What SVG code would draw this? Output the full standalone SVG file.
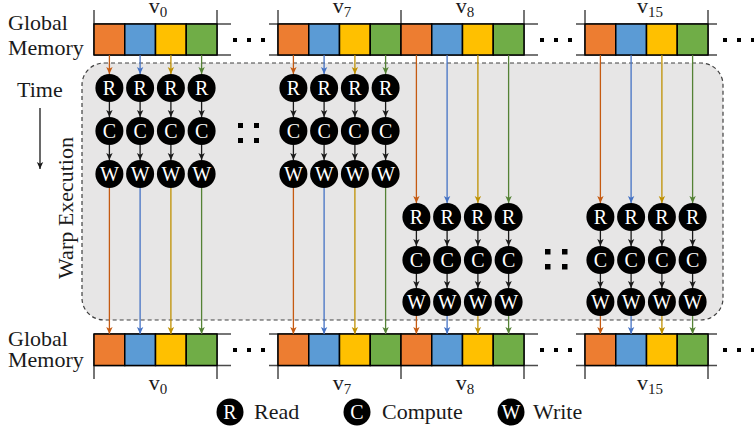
<svg xmlns="http://www.w3.org/2000/svg" width="754" height="431" viewBox="0 0 754 431">
<style>
text{font-family:"Liberation Serif","Times New Roman",serif;fill:#1a1a1a}
.lbl{font-size:22px}
.nl{font-size:20px;fill:#fff;text-anchor:middle}
.vl{font-size:22px;text-anchor:middle}
.c0{fill:#ed7d31}.c1{fill:#5b9bd5}.c2{fill:#ffc000}.c3{fill:#70ad47}
.cell{stroke:#000;stroke-width:1.5}
.rail{stroke:#4a4a4a;stroke-width:1.5;fill:none}
.node{fill:#000}
.k{stroke:#1a1a1a;stroke-width:1.3;fill:none;marker-end:url(#ak)}
.l0{stroke:#c55a11;stroke-width:1.3;fill:none;marker-end:url(#a0)}
.l1{stroke:#4472c4;stroke-width:1.3;fill:none;marker-end:url(#a1)}
.l2{stroke:#bf9000;stroke-width:1.3;fill:none;marker-end:url(#a2)}
.l3{stroke:#548235;stroke-width:1.3;fill:none;marker-end:url(#a3)}
.dot{fill:#000}
</style>
<defs>
<marker id="ak" markerUnits="userSpaceOnUse" markerWidth="8" markerHeight="8" refX="7" refY="4" orient="auto"><path d="M0,0.8 L7,4 L0,7.2 L1.8,4 Z" fill="#1a1a1a"/></marker>
<marker id="a0" markerUnits="userSpaceOnUse" markerWidth="8" markerHeight="8" refX="7" refY="4" orient="auto"><path d="M0,0.8 L7,4 L0,7.2 L1.8,4 Z" fill="#c55a11"/></marker>
<marker id="a1" markerUnits="userSpaceOnUse" markerWidth="8" markerHeight="8" refX="7" refY="4" orient="auto"><path d="M0,0.8 L7,4 L0,7.2 L1.8,4 Z" fill="#4472c4"/></marker>
<marker id="a2" markerUnits="userSpaceOnUse" markerWidth="8" markerHeight="8" refX="7" refY="4" orient="auto"><path d="M0,0.8 L7,4 L0,7.2 L1.8,4 Z" fill="#bf9000"/></marker>
<marker id="a3" markerUnits="userSpaceOnUse" markerWidth="8" markerHeight="8" refX="7" refY="4" orient="auto"><path d="M0,0.8 L7,4 L0,7.2 L1.8,4 Z" fill="#548235"/></marker>
</defs>

<!-- warp execution region -->
<g id="warp">
<rect x="82" y="63" width="641" height="257" rx="22" ry="22" fill="#e7e6e6" stroke="#404040" stroke-width="1.2" stroke-dasharray="4 3"/>
</g>

<!-- side labels -->
<g id="labels">
<text class="lbl" x="8" y="30">Global</text>
<text class="lbl" x="8" y="55">Memory</text>
<text class="lbl" x="8" y="346">Global</text>
<text class="lbl" x="8" y="367">Memory</text>
<text class="lbl" x="17" y="97">Time</text>
<text class="lbl" transform="translate(73,208) rotate(-90)" text-anchor="middle">Warp Execution</text>
<line x1="40" y1="108" x2="40" y2="169" class="k"/>
</g>

<!-- top global memory -->
<g id="top-memory">
<path class="rail" d="M94,24H231M94,55H231M94,10V55M217,10V55M269,24H538M269,55H538M278,10V55M401,10V55M524,10V55M576,24H717M576,55H717M585,10V55M708,10V55"/>
<g id="top-v0">
<rect class="cell c0" x="94" y="24" width="30.75" height="31"/><rect class="cell c1" x="124.75" y="24" width="30.75" height="31"/><rect class="cell c2" x="155.5" y="24" width="30.75" height="31"/><rect class="cell c3" x="186.25" y="24" width="30.75" height="31"/>
<text class="vl" x="158" y="13">v<tspan font-size="15" dy="4">0</tspan></text>
</g>
<g id="top-v7">
<rect class="cell c0" x="278" y="24" width="30.75" height="31"/><rect class="cell c1" x="308.75" y="24" width="30.75" height="31"/><rect class="cell c2" x="339.5" y="24" width="30.75" height="31"/><rect class="cell c3" x="370.25" y="24" width="30.75" height="31"/>
<text class="vl" x="342" y="13">v<tspan font-size="15" dy="4">7</tspan></text>
</g>
<g id="top-v8">
<rect class="cell c0" x="401" y="24" width="30.75" height="31"/><rect class="cell c1" x="431.75" y="24" width="30.75" height="31"/><rect class="cell c2" x="462.5" y="24" width="30.75" height="31"/><rect class="cell c3" x="493.25" y="24" width="30.75" height="31"/>
<text class="vl" x="465" y="13">v<tspan font-size="15" dy="4">8</tspan></text>
</g>
<g id="top-v15">
<rect class="cell c0" x="585" y="24" width="30.75" height="31"/><rect class="cell c1" x="615.75" y="24" width="30.75" height="31"/><rect class="cell c2" x="646.5" y="24" width="30.75" height="31"/><rect class="cell c3" x="677.25" y="24" width="30.75" height="31"/>
<text class="vl" x="650" y="13">v<tspan font-size="15" dy="4">15</tspan></text>
</g>
<rect class="dot" x="233" y="38" width="4" height="4"/><rect class="dot" x="247" y="38" width="4" height="4"/><rect class="dot" x="261" y="38" width="4" height="4"/>
<rect class="dot" x="540" y="38" width="4" height="4"/><rect class="dot" x="554" y="38" width="4" height="4"/><rect class="dot" x="568" y="38" width="4" height="4"/>
<rect class="dot" x="723" y="38" width="4" height="4"/><rect class="dot" x="737" y="38" width="4" height="4"/><rect class="dot" x="751" y="38" width="4" height="4"/>
</g>

<!-- bottom global memory -->
<g id="bottom-memory">
<path class="rail" d="M94,334H231M94,365.5H231M94,334V379M217,334V379M269,334H538M269,365.5H538M278,334V379M401,334V379M524,334V379M576,334H717M576,365.5H717M585,334V379M708,334V379"/>
<g id="bot-v0">
<rect class="cell c0" x="94" y="334" width="30.75" height="31.5"/><rect class="cell c1" x="124.75" y="334" width="30.75" height="31.5"/><rect class="cell c2" x="155.5" y="334" width="30.75" height="31.5"/><rect class="cell c3" x="186.25" y="334" width="30.75" height="31.5"/>
<text class="vl" x="158" y="390">v<tspan font-size="15" dy="4">0</tspan></text>
</g>
<g id="bot-v7">
<rect class="cell c0" x="278" y="334" width="30.75" height="31.5"/><rect class="cell c1" x="308.75" y="334" width="30.75" height="31.5"/><rect class="cell c2" x="339.5" y="334" width="30.75" height="31.5"/><rect class="cell c3" x="370.25" y="334" width="30.75" height="31.5"/>
<text class="vl" x="342" y="390">v<tspan font-size="15" dy="4">7</tspan></text>
</g>
<g id="bot-v8">
<rect class="cell c0" x="401" y="334" width="30.75" height="31.5"/><rect class="cell c1" x="431.75" y="334" width="30.75" height="31.5"/><rect class="cell c2" x="462.5" y="334" width="30.75" height="31.5"/><rect class="cell c3" x="493.25" y="334" width="30.75" height="31.5"/>
<text class="vl" x="465" y="390">v<tspan font-size="15" dy="4">8</tspan></text>
</g>
<g id="bot-v15">
<rect class="cell c0" x="585" y="334" width="30.75" height="31.5"/><rect class="cell c1" x="615.75" y="334" width="30.75" height="31.5"/><rect class="cell c2" x="646.5" y="334" width="30.75" height="31.5"/><rect class="cell c3" x="677.25" y="334" width="30.75" height="31.5"/>
<text class="vl" x="650" y="390">v<tspan font-size="15" dy="4">15</tspan></text>
</g>
<rect class="dot" x="233" y="348" width="4" height="4"/><rect class="dot" x="247" y="348" width="4" height="4"/><rect class="dot" x="261" y="348" width="4" height="4"/>
<rect class="dot" x="540" y="348" width="4" height="4"/><rect class="dot" x="554" y="348" width="4" height="4"/><rect class="dot" x="568" y="348" width="4" height="4"/>
<rect class="dot" x="723" y="348" width="4" height="4"/><rect class="dot" x="737" y="348" width="4" height="4"/><rect class="dot" x="751" y="348" width="4" height="4"/>
</g>

<!-- connectors -->
<g id="connectors">
<!-- v0 -->
<line class="l0" x1="109.4" y1="55" x2="109.4" y2="74"/><line class="l1" x1="140.1" y1="55" x2="140.1" y2="74"/><line class="l2" x1="170.9" y1="55" x2="170.9" y2="74"/><line class="l3" x1="201.6" y1="55" x2="201.6" y2="74"/>
<line class="k" x1="109.4" y1="102" x2="109.4" y2="117"/><line class="k" x1="140.1" y1="102" x2="140.1" y2="117"/><line class="k" x1="170.9" y1="102" x2="170.9" y2="117"/><line class="k" x1="201.6" y1="102" x2="201.6" y2="117"/>
<line class="k" x1="109.4" y1="145" x2="109.4" y2="160"/><line class="k" x1="140.1" y1="145" x2="140.1" y2="160"/><line class="k" x1="170.9" y1="145" x2="170.9" y2="160"/><line class="k" x1="201.6" y1="145" x2="201.6" y2="160"/>
<line class="l0" x1="109.4" y1="188" x2="109.4" y2="334"/><line class="l1" x1="140.1" y1="188" x2="140.1" y2="334"/><line class="l2" x1="170.9" y1="188" x2="170.9" y2="334"/><line class="l3" x1="201.6" y1="188" x2="201.6" y2="334"/>
<!-- v7 -->
<line class="l0" x1="293.4" y1="55" x2="293.4" y2="74"/><line class="l1" x1="324.1" y1="55" x2="324.1" y2="74"/><line class="l2" x1="354.9" y1="55" x2="354.9" y2="74"/><line class="l3" x1="385.6" y1="55" x2="385.6" y2="74"/>
<line class="k" x1="293.4" y1="102" x2="293.4" y2="117"/><line class="k" x1="324.1" y1="102" x2="324.1" y2="117"/><line class="k" x1="354.9" y1="102" x2="354.9" y2="117"/><line class="k" x1="385.6" y1="102" x2="385.6" y2="117"/>
<line class="k" x1="293.4" y1="145" x2="293.4" y2="160"/><line class="k" x1="324.1" y1="145" x2="324.1" y2="160"/><line class="k" x1="354.9" y1="145" x2="354.9" y2="160"/><line class="k" x1="385.6" y1="145" x2="385.6" y2="160"/>
<line class="l0" x1="293.4" y1="188" x2="293.4" y2="334"/><line class="l1" x1="324.1" y1="188" x2="324.1" y2="334"/><line class="l2" x1="354.9" y1="188" x2="354.9" y2="334"/><line class="l3" x1="385.6" y1="188" x2="385.6" y2="334"/>
<!-- v8 -->
<line class="l0" x1="416.4" y1="55" x2="416.4" y2="203"/><line class="l1" x1="447.1" y1="55" x2="447.1" y2="203"/><line class="l2" x1="477.9" y1="55" x2="477.9" y2="203"/><line class="l3" x1="508.6" y1="55" x2="508.6" y2="203"/>
<line class="k" x1="416.4" y1="231" x2="416.4" y2="246"/><line class="k" x1="447.1" y1="231" x2="447.1" y2="246"/><line class="k" x1="477.9" y1="231" x2="477.9" y2="246"/><line class="k" x1="508.6" y1="231" x2="508.6" y2="246"/>
<line class="k" x1="416.4" y1="274" x2="416.4" y2="288"/><line class="k" x1="447.1" y1="274" x2="447.1" y2="288"/><line class="k" x1="477.9" y1="274" x2="477.9" y2="288"/><line class="k" x1="508.6" y1="274" x2="508.6" y2="288"/>
<line class="l0" x1="416.4" y1="316" x2="416.4" y2="334"/><line class="l1" x1="447.1" y1="316" x2="447.1" y2="334"/><line class="l2" x1="477.9" y1="316" x2="477.9" y2="334"/><line class="l3" x1="508.6" y1="316" x2="508.6" y2="334"/>
<!-- v15 -->
<line class="l0" x1="600.4" y1="55" x2="600.4" y2="203"/><line class="l1" x1="631.1" y1="55" x2="631.1" y2="203"/><line class="l2" x1="661.9" y1="55" x2="661.9" y2="203"/><line class="l3" x1="692.6" y1="55" x2="692.6" y2="203"/>
<line class="k" x1="600.4" y1="231" x2="600.4" y2="246"/><line class="k" x1="631.1" y1="231" x2="631.1" y2="246"/><line class="k" x1="661.9" y1="231" x2="661.9" y2="246"/><line class="k" x1="692.6" y1="231" x2="692.6" y2="246"/>
<line class="k" x1="600.4" y1="274" x2="600.4" y2="288"/><line class="k" x1="631.1" y1="274" x2="631.1" y2="288"/><line class="k" x1="661.9" y1="274" x2="661.9" y2="288"/><line class="k" x1="692.6" y1="274" x2="692.6" y2="288"/>
<line class="l0" x1="600.4" y1="316" x2="600.4" y2="334"/><line class="l1" x1="631.1" y1="316" x2="631.1" y2="334"/><line class="l2" x1="661.9" y1="316" x2="661.9" y2="334"/><line class="l3" x1="692.6" y1="316" x2="692.6" y2="334"/>
</g>

<!-- nodes: group v0 -->
<g id="v0-R0"><circle class="node" cx="109.4" cy="88" r="14"/><text class="nl" x="109.4" y="95">R</text></g>
<g id="v0-R1"><circle class="node" cx="140.1" cy="88" r="14"/><text class="nl" x="140.1" y="95">R</text></g>
<g id="v0-R2"><circle class="node" cx="170.9" cy="88" r="14"/><text class="nl" x="170.9" y="95">R</text></g>
<g id="v0-R3"><circle class="node" cx="201.6" cy="88" r="14"/><text class="nl" x="201.6" y="95">R</text></g>
<g id="v0-C0"><circle class="node" cx="109.4" cy="131" r="14"/><text class="nl" x="109.4" y="138">C</text></g>
<g id="v0-C1"><circle class="node" cx="140.1" cy="131" r="14"/><text class="nl" x="140.1" y="138">C</text></g>
<g id="v0-C2"><circle class="node" cx="170.9" cy="131" r="14"/><text class="nl" x="170.9" y="138">C</text></g>
<g id="v0-C3"><circle class="node" cx="201.6" cy="131" r="14"/><text class="nl" x="201.6" y="138">C</text></g>
<g id="v0-W0"><circle class="node" cx="109.4" cy="174" r="14"/><text class="nl" x="109.4" y="181">W</text></g>
<g id="v0-W1"><circle class="node" cx="140.1" cy="174" r="14"/><text class="nl" x="140.1" y="181">W</text></g>
<g id="v0-W2"><circle class="node" cx="170.9" cy="174" r="14"/><text class="nl" x="170.9" y="181">W</text></g>
<g id="v0-W3"><circle class="node" cx="201.6" cy="174" r="14"/><text class="nl" x="201.6" y="181">W</text></g>
<!-- nodes: group v7 -->
<g id="v7-R0"><circle class="node" cx="293.4" cy="88" r="14"/><text class="nl" x="293.4" y="95">R</text></g>
<g id="v7-R1"><circle class="node" cx="324.1" cy="88" r="14"/><text class="nl" x="324.1" y="95">R</text></g>
<g id="v7-R2"><circle class="node" cx="354.9" cy="88" r="14"/><text class="nl" x="354.9" y="95">R</text></g>
<g id="v7-R3"><circle class="node" cx="385.6" cy="88" r="14"/><text class="nl" x="385.6" y="95">R</text></g>
<g id="v7-C0"><circle class="node" cx="293.4" cy="131" r="14"/><text class="nl" x="293.4" y="138">C</text></g>
<g id="v7-C1"><circle class="node" cx="324.1" cy="131" r="14"/><text class="nl" x="324.1" y="138">C</text></g>
<g id="v7-C2"><circle class="node" cx="354.9" cy="131" r="14"/><text class="nl" x="354.9" y="138">C</text></g>
<g id="v7-C3"><circle class="node" cx="385.6" cy="131" r="14"/><text class="nl" x="385.6" y="138">C</text></g>
<g id="v7-W0"><circle class="node" cx="293.4" cy="174" r="14"/><text class="nl" x="293.4" y="181">W</text></g>
<g id="v7-W1"><circle class="node" cx="324.1" cy="174" r="14"/><text class="nl" x="324.1" y="181">W</text></g>
<g id="v7-W2"><circle class="node" cx="354.9" cy="174" r="14"/><text class="nl" x="354.9" y="181">W</text></g>
<g id="v7-W3"><circle class="node" cx="385.6" cy="174" r="14"/><text class="nl" x="385.6" y="181">W</text></g>
<!-- nodes: group v8 -->
<g id="v8-R0"><circle class="node" cx="416.4" cy="217" r="14"/><text class="nl" x="416.4" y="224">R</text></g>
<g id="v8-R1"><circle class="node" cx="447.1" cy="217" r="14"/><text class="nl" x="447.1" y="224">R</text></g>
<g id="v8-R2"><circle class="node" cx="477.9" cy="217" r="14"/><text class="nl" x="477.9" y="224">R</text></g>
<g id="v8-R3"><circle class="node" cx="508.6" cy="217" r="14"/><text class="nl" x="508.6" y="224">R</text></g>
<g id="v8-C0"><circle class="node" cx="416.4" cy="260" r="14"/><text class="nl" x="416.4" y="267">C</text></g>
<g id="v8-C1"><circle class="node" cx="447.1" cy="260" r="14"/><text class="nl" x="447.1" y="267">C</text></g>
<g id="v8-C2"><circle class="node" cx="477.9" cy="260" r="14"/><text class="nl" x="477.9" y="267">C</text></g>
<g id="v8-C3"><circle class="node" cx="508.6" cy="260" r="14"/><text class="nl" x="508.6" y="267">C</text></g>
<g id="v8-W0"><circle class="node" cx="416.4" cy="302" r="14"/><text class="nl" x="416.4" y="309">W</text></g>
<g id="v8-W1"><circle class="node" cx="447.1" cy="302" r="14"/><text class="nl" x="447.1" y="309">W</text></g>
<g id="v8-W2"><circle class="node" cx="477.9" cy="302" r="14"/><text class="nl" x="477.9" y="309">W</text></g>
<g id="v8-W3"><circle class="node" cx="508.6" cy="302" r="14"/><text class="nl" x="508.6" y="309">W</text></g>
<!-- nodes: group v15 -->
<g id="v15-R0"><circle class="node" cx="600.4" cy="217" r="14"/><text class="nl" x="600.4" y="224">R</text></g>
<g id="v15-R1"><circle class="node" cx="631.1" cy="217" r="14"/><text class="nl" x="631.1" y="224">R</text></g>
<g id="v15-R2"><circle class="node" cx="661.9" cy="217" r="14"/><text class="nl" x="661.9" y="224">R</text></g>
<g id="v15-R3"><circle class="node" cx="692.6" cy="217" r="14"/><text class="nl" x="692.6" y="224">R</text></g>
<g id="v15-C0"><circle class="node" cx="600.4" cy="260" r="14"/><text class="nl" x="600.4" y="267">C</text></g>
<g id="v15-C1"><circle class="node" cx="631.1" cy="260" r="14"/><text class="nl" x="631.1" y="267">C</text></g>
<g id="v15-C2"><circle class="node" cx="661.9" cy="260" r="14"/><text class="nl" x="661.9" y="267">C</text></g>
<g id="v15-C3"><circle class="node" cx="692.6" cy="260" r="14"/><text class="nl" x="692.6" y="267">C</text></g>
<g id="v15-W0"><circle class="node" cx="600.4" cy="302" r="14"/><text class="nl" x="600.4" y="309">W</text></g>
<g id="v15-W1"><circle class="node" cx="631.1" cy="302" r="14"/><text class="nl" x="631.1" y="309">W</text></g>
<g id="v15-W2"><circle class="node" cx="661.9" cy="302" r="14"/><text class="nl" x="661.9" y="309">W</text></g>
<g id="v15-W3"><circle class="node" cx="692.6" cy="302" r="14"/><text class="nl" x="692.6" y="309">W</text></g>

<!-- vertical ellipsis squares -->
<g id="ellipsis1"><rect class="dot" x="238" y="123" width="5" height="5"/><rect class="dot" x="254" y="123" width="5" height="5"/><rect class="dot" x="238" y="138" width="5" height="5"/><rect class="dot" x="254" y="138" width="5" height="5"/></g>
<g id="ellipsis2"><rect class="dot" x="545" y="249" width="5.5" height="5.5"/><rect class="dot" x="562" y="249" width="5.5" height="5.5"/><rect class="dot" x="545" y="264" width="5.5" height="5.5"/><rect class="dot" x="562" y="264" width="5.5" height="5.5"/></g>

<!-- legend -->
<g id="legend-read"><circle class="node" cx="230" cy="412" r="13.5"/><text class="nl" x="230" y="419">R</text><text class="lbl" x="254" y="419">Read</text></g>
<g id="legend-compute"><circle class="node" cx="357" cy="412" r="13.5"/><text class="nl" x="357" y="419">C</text><text class="lbl" x="382" y="419">Compute</text></g>
<g id="legend-write"><circle class="node" cx="511" cy="412" r="13.5"/><text class="nl" x="511" y="419">W</text><text class="lbl" x="533" y="419">Write</text></g>
</svg>
